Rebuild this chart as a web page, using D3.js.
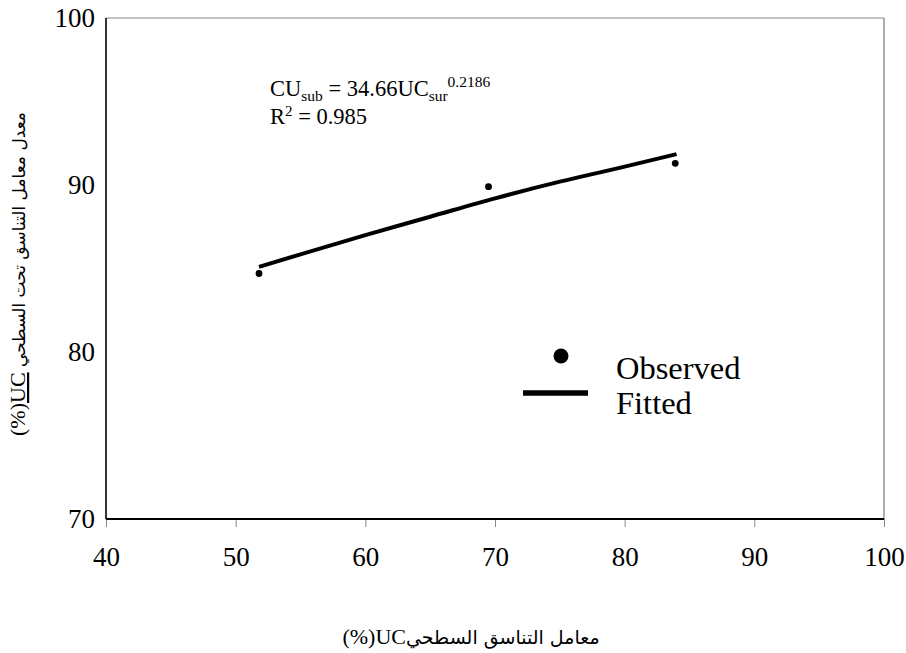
<!DOCTYPE html>
<html>
<head>
<meta charset="utf-8">
<script src="https://cdn.jsdelivr.net/npm/d3@7"></script>
<style>
  html, body { margin: 0; padding: 0; background: #fff; }
  svg { display: block; }
  text { font-family: "Liberation Serif", "Times New Roman", "DejaVu Sans", serif; fill: #000; }
</style>
</head>
<body>
<svg id="chart" width="906" height="653"></svg>
<script>
// ---- data ----
const xTicks = [40, 50, 60, 70, 80, 90, 100];
const yTicks = [70, 80, 90, 100];
const observedX = [51.8, 69.5, 83.9];
const observedY = [84.7, 89.9, 91.3];
const fittedX = [51.8, 55, 60, 65, 70, 75, 80, 84];
const fittedY = [85.1, 85.85, 87.0, 88.1, 89.2, 90.2, 91.1, 91.85];
const legendLabels = ["Observed", "Fitted"];
const xTitleMain = "معامل التناسق السطحي";
const xTitleEnd = "UC(%)";
const yTitleMain = "معدل معامل التناسق تحت السطحي ";
const yTitleUnder = "UC";
const yTitleEnd = "(%)";

const serif = "'Liberation Serif','Times New Roman',serif";

// ---- layout ----
const svg = d3.select("#chart");
svg.append("rect").attr("width", 906).attr("height", 653).attr("fill", "#fff");

const x = d3.scaleLinear().domain([40, 100]).range([106, 884]);
const y = d3.scaleLinear().domain([70, 100]).range([519, 18]);

// frame
svg.append("line").attr("x1", x(40)).attr("x2", x(100)).attr("y1", y(100)).attr("y2", y(100))
  .attr("stroke", "#8a8a8a").attr("stroke-width", 1.2);
svg.append("line").attr("x1", x(100)).attr("x2", x(100)).attr("y1", y(100)).attr("y2", y(70))
  .attr("stroke", "#9a9a9a").attr("stroke-width", 1.6);

// x axis
const xAxis = d3.axisBottom(x).tickValues(xTicks).tickSize(8).tickPadding(20).tickFormat(d3.format("d"));
const gx = svg.append("g").attr("transform", `translate(0,${y(70)})`).call(xAxis);
gx.attr("font-family", serif).attr("font-size", 27);
gx.select(".domain").remove();
gx.selectAll(".tick line").attr("stroke", "#888").attr("stroke-width", 1);
gx.selectAll(".tick text").attr("font-size", 27).attr("font-family", serif).style("font-family", serif);
gx.append("line").attr("x1", x(40)).attr("x2", x(100)).attr("y1", 0).attr("y2", 0)
  .attr("stroke", "#000").attr("stroke-width", 2);

// y axis
const yAxis = d3.axisLeft(y).tickValues(yTicks).tickSize(0).tickPadding(11).tickFormat(d3.format("d"));
const gy = svg.append("g").attr("transform", `translate(${x(40)},0)`).call(yAxis);
gy.attr("font-family", serif).attr("font-size", 27);
gy.select(".domain").remove();
gy.selectAll(".tick text").attr("font-size", 27).attr("font-family", serif).style("font-family", serif);
gy.append("line").attr("x1", 0).attr("x2", 0).attr("y1", y(100)).attr("y2", y(70))
  .attr("stroke", "#000").attr("stroke-width", 1.6);

// fitted line
const fitted = fittedX.map((v, i) => [v, fittedY[i]]);
const line = d3.line().x(d => x(d[0])).y(d => y(d[1])).curve(d3.curveMonotoneX);
svg.append("path").datum(fitted).attr("d", line)
  .attr("fill", "none").attr("stroke", "#000").attr("stroke-width", 4).attr("stroke-linecap", "butt");

// observed points
const observed = observedX.map((v, i) => [v, observedY[i]]);
svg.append("g").selectAll("circle").data(observed).join("circle")
  .attr("cx", d => x(d[0])).attr("cy", d => y(d[1])).attr("r", 3.4).attr("fill", "#000");

// equation
const eq = svg.append("text").attr("x", 270).attr("y", 96).attr("font-size", 22.5).style("font-family", serif);
eq.append("tspan").text("CU");
eq.append("tspan").attr("font-size", 15.5).attr("dy", 5).text("sub");
eq.append("tspan").attr("dy", -5).text(" = 34.66UC");
eq.append("tspan").attr("font-size", 15.5).attr("dy", 5).text("sur");
eq.append("tspan").attr("font-size", 15.5).attr("dy", -14).text("0.2186");
const r2 = svg.append("text").attr("x", 270).attr("y", 124).attr("font-size", 22.5).style("font-family", serif);
r2.append("tspan").text("R");
r2.append("tspan").attr("font-size", 15).attr("dy", -8).text("2");
r2.append("tspan").attr("dy", 8).text(" = 0.985");

// legend
svg.append("circle").attr("cx", 561).attr("cy", 356).attr("r", 7.5).attr("fill", "#000");
svg.append("line").attr("x1", 523).attr("x2", 588).attr("y1", 393).attr("y2", 393)
  .attr("stroke", "#000").attr("stroke-width", 5.5);
svg.append("text").attr("x", 616).attr("y", 379).attr("font-size", 32.5).style("font-family", serif).text(legendLabels[0]);
svg.append("text").attr("x", 616).attr("y", 414).attr("font-size", 32.5).style("font-family", serif).text(legendLabels[1]);

// x title
const xt = svg.append("text").attr("x", 471).attr("y", 644).attr("font-size", 22)
  .attr("text-anchor", "middle").attr("direction", "rtl")
  .style("font-family", "'Liberation Serif','DejaVu Sans',serif");
xt.append("tspan").attr("font-size", 19).style("font-family", "'DejaVu Sans',sans-serif").text(xTitleMain);
xt.append("tspan").text(xTitleEnd);

// y title
const yt = svg.append("text").attr("transform", "translate(25,274) rotate(-90)")
  .attr("font-size", 22).attr("text-anchor", "middle").attr("direction", "rtl")
  .style("font-family", "'Liberation Serif','DejaVu Sans',serif");
yt.append("tspan").attr("font-size", 17).style("font-family", "'DejaVu Sans',sans-serif").text(yTitleMain);
yt.append("tspan").style("text-decoration", "underline").text(yTitleUnder);
yt.append("tspan").text(yTitleEnd);
</script>
</body>
</html>
